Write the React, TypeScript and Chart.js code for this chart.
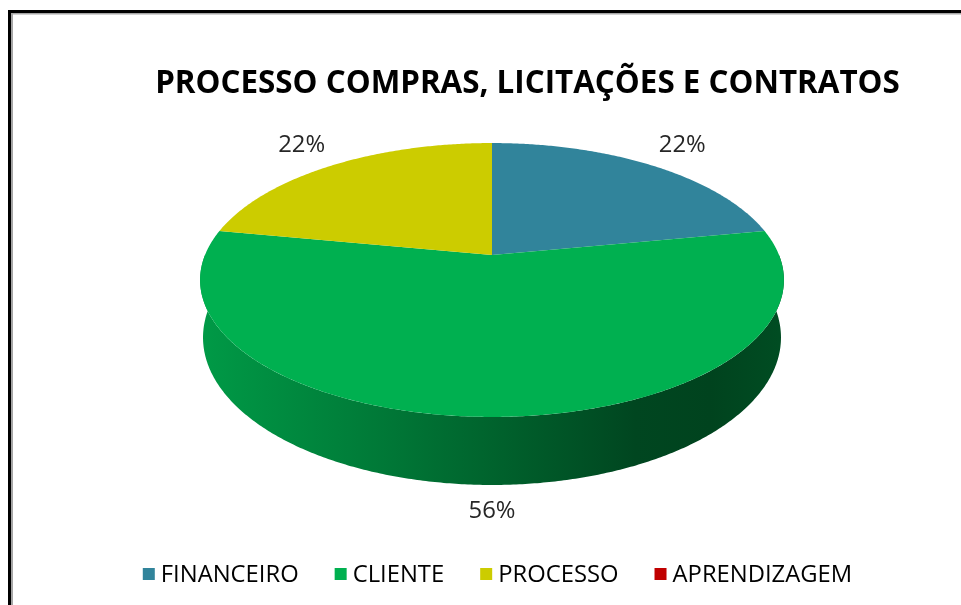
import React, { useEffect, useRef } from "react";
import { Chart, registerables } from "chart.js";

Chart.register(...registerables);

// ---- data ----
const TITLE = "PROCESSO COMPRAS, LICITAÇÕES E CONTRATOS";
const CATEGORIES = ["FINANCEIRO", "CLIENTE", "PROCESSO", "APRENDIZAGEM"];
const VALUES = [22, 56, 22, 0];
const COLORS = ["#31849B", "#00B050", "#CCCC00", "#C00000"];

// ---- style / layout ----
const FONT = '"Open Sans", "Noto Sans", "DejaVu Sans", sans-serif';
const W = 961;
const H = 605;
const PERSP = 0.1825; // perspective strength
const SQUASH = 0.4613; // vertical squash of the disc
const DEPTH = 0.1937; // side depth relative to radius
const SHRINK = 0.99; // bottom disc slightly narrower

function hexToRgb(hex: string) {
  const n = parseInt(hex.slice(1), 16);
  return [(n >> 16) & 255, (n >> 8) & 255, n & 255];
}
function shade(hex: string, f: number) {
  const [r, g, b] = hexToRgb(hex);
  return `rgb(${Math.round(r * f)},${Math.round(g * f)},${Math.round(b * f)})`;
}

function proj(cx: number, cy: number, a: number, th: number, bottom = false) {
  const u = Math.cos(th);
  const v = Math.sin(th);
  const w = 1 - PERSP * v;
  const s = bottom ? SHRINK : 1;
  return [cx + (s * a * u) / w, cy + (SQUASH * a * v + (bottom ? DEPTH * a : 0)) / w];
}

function fitSize(ctx: CanvasRenderingContext2D, text: string, weight: string, target: number) {
  ctx.font = `${weight} 100px ${FONT}`;
  const w = ctx.measureText(text).width;
  return (100 * target) / w;
}

const pie3d = {
  id: "pie3d",
  beforeDatasetsDraw() {
    return false;
  },
  afterDraw(chart: any) {
    const ctx: CanvasRenderingContext2D = chart.ctx;
    const meta = chart.getDatasetMeta(0);
    const arcs = meta.data as any[];
    if (!arcs.length) return;
    const cx = arcs[0].x;
    const cy = arcs[0].y;
    const a = arcs[0].outerRadius;
    const STEP = Math.PI / 360;
    const total = VALUES.reduce((s, v) => s + v, 0);

    ctx.save();
    // ---- sides (front half only) ----
    arcs.forEach((arc, i) => {
      if (VALUES[i] <= 0) return;
      const s0 = Math.max(arc.startAngle, 0);
      const e0 = Math.min(arc.endAngle, Math.PI);
      if (e0 <= s0) return;
      ctx.beginPath();
      for (let t = s0; t <= e0 + 1e-9; t += STEP) {
        const [x, y] = proj(cx, cy, a, Math.min(t, e0));
        if (t === s0) ctx.moveTo(x, y);
        else ctx.lineTo(x, y);
      }
      let [xe, ye] = proj(cx, cy, a, e0);
      ctx.lineTo(xe, ye);
      for (let t = e0; t >= s0 - 1e-9; t -= STEP) {
        const [x, y] = proj(cx, cy, a, Math.max(t, s0), true);
        ctx.lineTo(x, y);
      }
      [xe, ye] = proj(cx, cy, a, s0, true);
      ctx.lineTo(xe, ye);
      ctx.closePath();
      const g = ctx.createLinearGradient(cx - a, 0, cx + a, 0);
      const c = COLORS[i];
      g.addColorStop(0, shade(c, 0.87));
      g.addColorStop(0.25, shade(c, 0.72));
      g.addColorStop(0.5, shade(c, 0.56));
      g.addColorStop(0.75, shade(c, 0.4));
      g.addColorStop(0.88, shade(c, 0.38));
      g.addColorStop(1, shade(c, 0.43));
      ctx.fillStyle = g;
      ctx.fill();
    });

    // ---- top faces ----
    arcs.forEach((arc, i) => {
      if (VALUES[i] <= 0) return;
      const s0 = arc.startAngle;
      const e0 = arc.endAngle;
      ctx.beginPath();
      ctx.moveTo(cx, cy);
      for (let t = s0; t < e0; t += STEP) {
        const [x, y] = proj(cx, cy, a, t);
        ctx.lineTo(x, y);
      }
      const [xe, ye] = proj(cx, cy, a, e0);
      ctx.lineTo(xe, ye);
      ctx.closePath();
      ctx.fillStyle = COLORS[i];
      ctx.fill();
    });

    // ---- data labels ----
    const labelSize = fitSize(ctx, "22%", "normal", 47);
    ctx.font = `normal ${labelSize}px ${FONT}`;
    ctx.fillStyle = "#262626";
    ctx.textAlign = "center";
    ctx.textBaseline = "middle";
    arcs.forEach((arc, i) => {
      if (VALUES[i] <= 0) return;
      const mid = (arc.startAngle + arc.endAngle) / 2;
      const u = Math.cos(mid);
      const v = Math.sin(mid);
      const front = v > 0.3;
      const [x, y] = proj(cx, cy, a, mid, front);
      const lx = x + u * 47;
      const ly = y + v * 26;
      const pct = Math.round((VALUES[i] / total) * 100) + "%";
      ctx.fillText(pct, lx, ly);
    });

    // ---- title ----
    const titleSize = fitSize(ctx, TITLE, "bold", 745);
    ctx.font = `bold ${titleSize}px ${FONT}`;
    ctx.fillStyle = "#000000";
    ctx.textAlign = "center";
    ctx.textBaseline = "alphabetic";
    ctx.fillText(TITLE, 527.5, 93);

    // ---- legend ----
    const legSize = fitSize(ctx, CATEGORIES[0], "normal", 138);
    ctx.font = `normal ${legSize}px ${FONT}`;
    const BOX = 12;
    const GAP = 6;
    const ITEM_GAP = 36;
    const widths = CATEGORIES.map((t) => ctx.measureText(t).width);
    const totalW = widths.reduce((s, w) => s + BOX + GAP + w, 0) + ITEM_GAP * (CATEGORIES.length - 1);
    let x = 497.5 - totalW / 2;
    const ly = 574;
    ctx.textAlign = "left";
    ctx.textBaseline = "middle";
    CATEGORIES.forEach((t, i) => {
      ctx.fillStyle = COLORS[i];
      ctx.fillRect(x, ly - BOX / 2, BOX, BOX);
      ctx.fillStyle = "#000000";
      ctx.fillText(t, x + BOX + GAP, ly + 1);
      x += BOX + GAP + widths[i] + ITEM_GAP;
    });

    // ---- frame ----
    ctx.fillStyle = "#000000";
    ctx.fillRect(8, 10, W - 8, 3);
    ctx.fillRect(8, 10, 3, H - 10);
    ctx.fillStyle = "#a6a6a6";
    ctx.fillRect(11, 13, W - 11, 1.5);
    ctx.fillRect(11, 13, 2, H - 13);
    ctx.restore();
  },
};

export default function App() {
  const ref = useRef<HTMLCanvasElement | null>(null);
  useEffect(() => {
    if (!ref.current) return;
    const chart = new Chart(ref.current, {
      type: "pie",
      data: {
        labels: CATEGORIES,
        datasets: [
          {
            data: VALUES,
            backgroundColor: COLORS,
            borderWidth: 0,
            radius: 287,
          } as any,
        ],
      },
      options: {
        responsive: false,
        animation: false,
        devicePixelRatio: 1,
        layout: { padding: { left: 23, right: 0, top: 0, bottom: 95 } },
        plugins: {
          legend: { display: false },
          title: { display: false },
          tooltip: { enabled: false },
        },
        events: [],
      },
      plugins: [pie3d],
    });
    return () => chart.destroy();
  }, []);
  return (
    <div style={{ position: "fixed", left: 0, top: 0, width: W, height: H, background: "#ffffff" }}>
      <canvas ref={ref} width={W} height={H} style={{ width: W, height: H, display: "block" }} />
    </div>
  );
}
